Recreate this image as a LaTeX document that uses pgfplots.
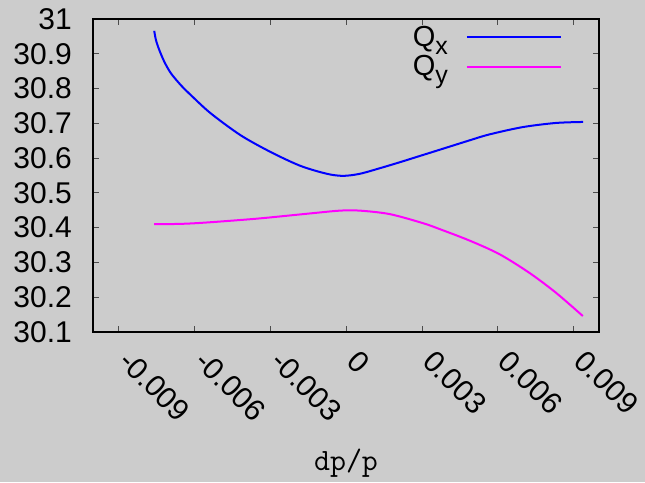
\documentclass[border=0pt]{standalone}
\usepackage{fontspec}
\setmainfont{Liberation Sans}
\usepackage{pgfplots}
\pgfplotsset{compat=1.18}
\definecolor{bg}{HTML}{CCCCCC}
\definecolor{qxc}{HTML}{0000FF}
\definecolor{qyc}{HTML}{FF00FF}
\newcommand\sub[1]{\raisebox{-8pt}{\fontsize{25}{25}\selectfont #1}}
\pgfplotstableread{
x y
-0.00758 30.966
-0.00751 30.939
-0.00738 30.911
-0.00718 30.877
-0.00692 30.844
-0.00653 30.810
-0.00613 30.781
-0.00535 30.729
-0.00417 30.666
-0.00299 30.618
-0.00181 30.578
-0.00076 30.555
-0.00011 30.549
0.00055 30.555
0.00134 30.571
0.00212 30.588
0.00291 30.606
0.00370 30.624
0.00488 30.651
0.00566 30.668
0.00697 30.689
0.00828 30.701
0.00937 30.704
}\qx
\pgfplotstableread{
x y
-0.00758 30.410
-0.00650 30.411
-0.00548 30.415
-0.00351 30.426
-0.00155 30.440
-0.00024 30.449
0.00055 30.449
0.00173 30.439
0.00304 30.413
0.00370 30.396
0.00488 30.363
0.00606 30.324
0.00723 30.271
0.00828 30.214
0.00936 30.146
}\qy
\begin{document}
\begin{tikzpicture}
\path[use as bounding box, fill=bg] (0,0) rectangle (645pt,482pt);
\begin{axis}[
  at={(93pt,150pt)}, anchor=south west,
  scale only axis, width=506pt, height=313pt,
  xmin=-0.01, xmax=0.01, ymin=30.1, ymax=31,
  scaled x ticks=false, scaled y ticks=false,
  xtick={-0.009,-0.006,-0.003,0,0.003,0.006,0.009},
  xticklabels={-0.009,-0.006,-0.003,0,0.003,0.006,0.009},
  ytick={30.1,30.2,30.3,30.4,30.5,30.6,30.7,30.8,30.9,31},
  yticklabels={30.1,30.2,30.3,30.4,30.5,30.6,30.7,30.8,30.9,31},
  tick align=inside, major tick length=6pt,
  tick style={gray!60!black, line width=0.8pt},
  axis line style={line width=1.1pt, black},
  ticklabel style={font=\fontsize{30}{32}\selectfont, inner sep=0pt},
  yticklabel style={anchor=east, xshift=-21pt},
  xticklabel style={yshift=-31pt, xshift=-1pt, rotate=-45, anchor=base west},
  xlabel={\ttfamily dp/p},
  xlabel style={font=\fontsize{31}{32}\selectfont, at={(axis description cs:0.5,-0.443)}, anchor=base, inner sep=0pt},
  legend style={draw=none, fill=none, at={(0.927,0.985)}, anchor=north east,
    font=\fontsize{29}{30}\selectfont, legend cell align=right, row sep=4pt,
    inner sep=0pt, column sep=16pt, nodes={inner sep=2pt}},
  legend plot pos=right,
  legend image code/.code={\draw[#1] (0pt,0pt) -- (94pt,0pt);},
]
\addplot[qxc, line width=2pt, smooth, tension=0.5] table {\qx};
\addlegendentry{Q\sub{x}}
\addplot[qyc, line width=2pt, smooth, tension=0.5] table {\qy};
\addlegendentry{Q\sub{y}}
\end{axis}
\end{tikzpicture}
\end{document}
